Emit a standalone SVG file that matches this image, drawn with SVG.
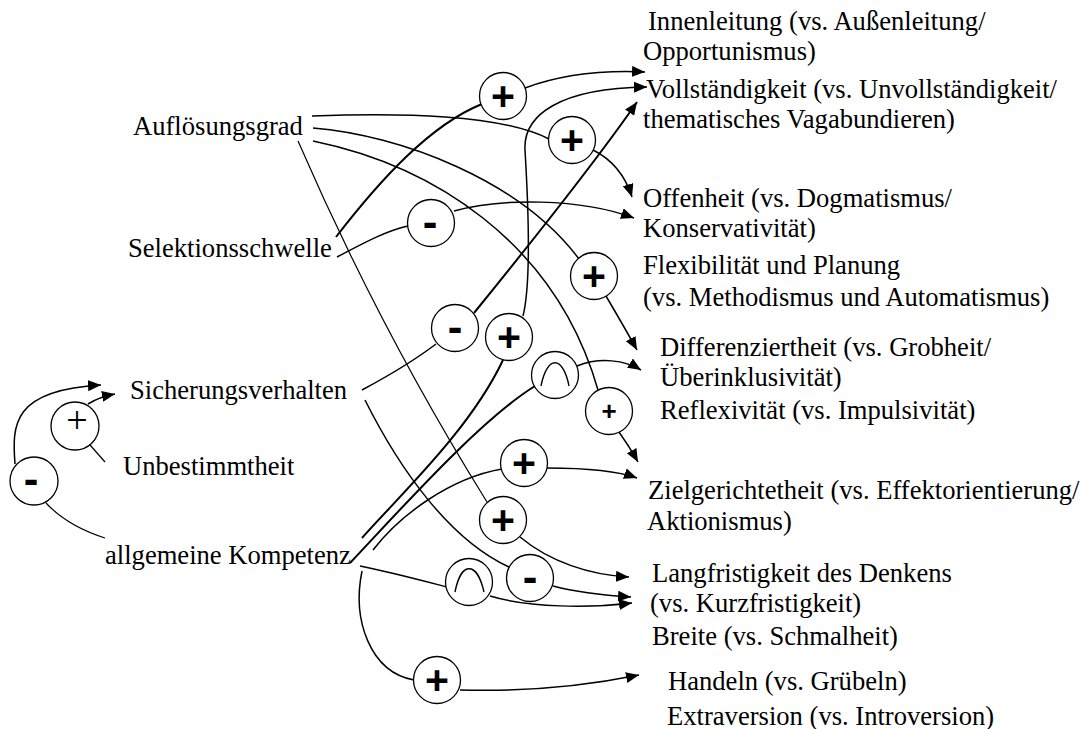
<svg xmlns="http://www.w3.org/2000/svg" width="1081" height="729" viewBox="0 0 1081 729">
  <style>
    .lbl { font-family: "Liberation Serif", "Times New Roman", serif; font-size: 26.6px; fill: #000; }
    .op { fill: #fff; stroke: #000; stroke-width: 1.3; }
    .sym { font-family: "Liberation Sans", Arial, sans-serif; font-weight: bold; fill: #000; text-anchor: middle; }
    .plus { font-size: 41px; }
    .minus { font-size: 44px; }
    .small { font-size: 26px; }
    .thin { font-family: "Liberation Serif", "Times New Roman", serif; font-weight: normal; font-size: 38px; }
    .cap { fill: none; stroke: #000; stroke-width: 1.4; }
    .c { fill: none; stroke: #000; stroke-width: 1.5; }
    .c.thick { stroke-width: 2; }
    .c.fine { stroke-width: 1.2; }
    .a { marker-end: url(#arr); }
  </style>
  <defs>
    <marker id="arr" markerUnits="userSpaceOnUse" markerWidth="14" markerHeight="12" refX="13" refY="5.5" orient="auto">
      <path d="M0,0 L13,5.5 L0,11 z" fill="#000"/>
    </marker>
  </defs>
  <rect width="1081" height="729" fill="#fff"/>

  <!-- connectors -->
  <g id="connectors">
    <!-- Auflösungsgrad -->
    <path class="c" d="M312,116 C 400,113 500,114 549,139"/>
    <path class="c a" d="M593,150 C 611,159 625,175 632,197"/>
    <path class="c" d="M313,128 C 400,135 520,180 579,259"/>
    <path class="c a" d="M606,296 C 616,313 627,332 637,350"/>
    <path class="c" d="M313,141 C 430,165 555,240 598,390"/>
    <path class="c a" d="M619,432 Q 629,446 638,462"/>
    <path class="c fine" d="M298,141 Q 380,330 487,502"/>
    <path class="c a" d="M520,537 C 550,562 590,575 629,577"/>
    <!-- Selektionsschwelle -->
    <path class="c thick" d="M336,237 C 380,180 430,125 482,104"/>
    <path class="c a" d="M525,88 C 560,75 600,70 645,72"/>
    <path class="c" d="M337,257 C 360,245 385,231 408,226"/>
    <path class="c a" d="M454,211 C 500,198 580,198 634,218"/>
    <!-- Sicherungsverhalten -->
    <path class="c" d="M362,390 C 390,375 415,360 436,344"/>
    <path class="c thick a" d="M474,313 Q 590,170 637,102"/>
    <path class="c" d="M365,400 C 400,470 450,540 509,567"/>
    <path class="c a" d="M553,586 C 576,592 600,595 631,597"/>
    <!-- allgemeine Kompetenz -->
    <path class="c thick" d="M362,538 C 400,495 470,430 503,360"/>
    <path class="c a" d="M523,316 C 532,280 528,200 525,150 C 523,115 560,88 647,87"/>
    <path class="c thick" d="M350,563 C 400,510 480,420 535,386"/>
    <path class="c a" d="M577,366 C 600,357 625,360 641,370"/>
    <path class="c" d="M373,550 C 400,515 450,478 502,469"/>
    <path class="c a" d="M547,468 C 580,468 615,470 637,478"/>
    <path class="c" d="M360,566 C 390,572 420,580 447,587"/>
    <path class="c a" d="M490,596 C 530,608 590,608 632,603"/>
    <path class="c" d="M362,571 C 352,620 370,672 414,680"/>
    <path class="c a" d="M460,690 C 530,692 590,685 639,675"/>
    <!-- left loop -->
    <path class="c fine" d="M105,462 L 90,445"/>
    <path class="c a" d="M88,404 Q 99,397 115,394"/>
    <path class="c fine" d="M105,538 C 80,530 60,518 46,503"/>
    <path class="c a" d="M15,464 C 12,425 12,390 101,385"/>
  </g>

  <!-- source factors -->
  <g id="n-aufloesungsgrad"><text class="lbl" x="133" y="135">Auflösungsgrad</text></g>
  <g id="n-selektionsschwelle"><text class="lbl" x="128" y="257">Selektionsschwelle</text></g>
  <g id="n-sicherungsverhalten"><text class="lbl" x="130" y="399">Sicherungsverhalten</text></g>
  <g id="n-unbestimmtheit"><text class="lbl" x="123" y="475">Unbestimmtheit</text></g>
  <g id="n-kompetenz"><text class="lbl" x="105" y="564">allgemeine Kompetenz</text></g>

  <!-- outcome characteristics -->
  <g id="n-innenleitung">
    <text class="lbl" x="648" y="30">Innenleitung (vs. Außenleitung/</text>
    <text class="lbl" x="643" y="60">Opportunismus)</text>
  </g>
  <g id="n-vollstaendigkeit">
    <text class="lbl" x="646" y="98">Vollständigkeit (vs. Unvollständigkeit/</text>
    <text class="lbl" x="643" y="128">thematisches Vagabundieren)</text>
  </g>
  <g id="n-offenheit">
    <text class="lbl" x="643" y="207">Offenheit (vs. Dogmatismus/</text>
    <text class="lbl" x="643" y="237">Konservativität)</text>
  </g>
  <g id="n-flexibilitaet">
    <text class="lbl" x="643" y="274">Flexibilität und Planung</text>
    <text class="lbl" x="643" y="306">(vs. Methodismus und Automatismus)</text>
  </g>
  <g id="n-differenziertheit">
    <text class="lbl" x="660" y="356">Differenziertheit (vs. Grobheit/</text>
    <text class="lbl" x="660" y="386">Überinklusivität)</text>
  </g>
  <g id="n-reflexivitaet"><text class="lbl" x="660" y="419">Reflexivität (vs. Impulsivität)</text></g>
  <g id="n-zielgerichtetheit">
    <text class="lbl" x="648" y="499">Zielgerichtetheit (vs. Effektorientierung/</text>
    <text class="lbl" x="647" y="530">Aktionismus)</text>
  </g>
  <g id="n-langfristigkeit">
    <text class="lbl" x="652" y="582">Langfristigkeit des Denkens</text>
    <text class="lbl" x="650" y="612">(vs. Kurzfristigkeit)</text>
  </g>
  <g id="n-breite"><text class="lbl" x="652" y="645">Breite (vs. Schmalheit)</text></g>
  <g id="n-handeln"><text class="lbl" x="668" y="690">Handeln (vs. Grübeln)</text></g>
  <g id="n-extraversion"><text class="lbl" x="667" y="725">Extraversion (vs. Introversion)</text></g>

  <!-- influence operators -->
  <g id="op-sel-innen"><circle class="op" cx="503" cy="96" r="23.5"/><text class="sym plus" x="503" y="110">+</text></g>
  <g id="op-auf-offen"><circle class="op" cx="572" cy="140" r="23.5"/><text class="sym plus" x="572" y="154">+</text></g>
  <g id="op-sel-offen"><circle class="op" cx="431" cy="223" r="23.5"/><text class="sym minus" x="430" y="237">-</text></g>
  <g id="op-auf-flex"><circle class="op" cx="594" cy="276" r="23.5"/><text class="sym plus" x="594" y="290">+</text></g>
  <g id="op-sich-voll"><circle class="op" cx="455" cy="328" r="23.5"/><text class="sym minus" x="455" y="342">-</text></g>
  <g id="op-komp-voll"><circle class="op" cx="509" cy="337" r="23.5"/><text class="sym plus" x="509" y="351">+</text></g>
  <g id="op-komp-diff"><circle class="op" cx="555" cy="375" r="23.5"/><path class="cap" d="M541,386 C 547,355 563,355 569,386"/></g>
  <g id="op-auf-refl"><circle class="op" cx="609" cy="411" r="23.5"/><text class="sym small" x="609" y="420">+</text></g>
  <g id="op-komp-ziel"><circle class="op" cx="524" cy="463" r="23.5"/><text class="sym plus" x="524" y="477">+</text></g>
  <g id="op-auf-lang"><circle class="op" cx="503" cy="520" r="23.5"/><text class="sym plus" x="503" y="534">+</text></g>
  <g id="op-sich-lang"><circle class="op" cx="530" cy="578" r="23.5"/><text class="sym minus" x="530" y="592">-</text></g>
  <g id="op-komp-breite"><circle class="op" cx="469" cy="582" r="23.5"/><path class="cap" d="M455,592 C 461,561 477,561 484,592"/></g>
  <g id="op-komp-handeln"><circle class="op" cx="437" cy="680" r="23.5"/><text class="sym plus" x="437" y="694">+</text></g>
  <g id="op-unb-sich"><circle class="op" cx="75" cy="426" r="24"/><text class="sym thin" x="77" y="433">+</text></g>
  <g id="op-komp-sich"><circle class="op" cx="34" cy="481" r="24"/><text class="sym minus" x="31" y="494">-</text></g>
</svg>
